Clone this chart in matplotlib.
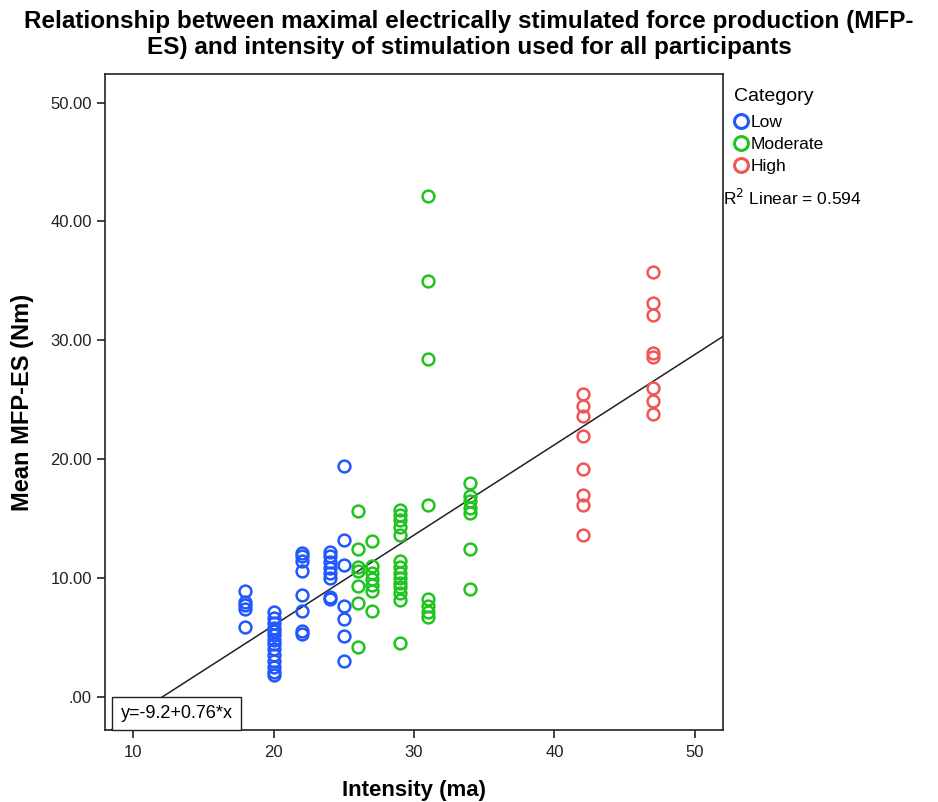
import matplotlib
matplotlib.use('Agg')
import matplotlib.pyplot as plt
from matplotlib.ticker import FuncFormatter
from matplotlib.lines import Line2D
from matplotlib.transforms import offset_copy

plt.rcParams['font.family'] = ['Liberation Sans', 'DejaVu Sans']

# values
low_intensity = [18, 18, 18, 18, 18,
                 20, 20, 20, 20, 20, 20, 20, 20, 20, 20, 20, 20, 20, 20,
                 22, 22, 22, 22, 22, 22, 22, 22,
                 24, 24, 24, 24, 24, 24, 24, 24,
                 25, 25, 25, 25, 25, 25, 25]
low_force = [8.9, 8.0, 7.7, 7.4, 5.9,
             7.1, 6.6, 6.2, 5.8, 5.5, 5.2, 4.8, 4.4, 4.0, 3.5, 3.0, 2.5, 2.1, 1.8,
             12.1, 11.8, 11.4, 10.6, 8.6, 7.2, 5.5, 5.3,
             12.2, 11.8, 11.3, 10.8, 10.4, 10.0, 8.4, 8.2,
             19.4, 13.2, 11.1, 7.6, 6.5, 5.1, 3.0]

moderate_intensity = [26, 26, 26, 26, 26, 26, 26,
                      27, 27, 27, 27, 27, 27, 27,
                      29, 29, 29, 29, 29, 29, 29, 29, 29, 29, 29, 29, 29, 29,
                      31, 31, 31, 31, 31, 31, 31, 31,
                      34, 34, 34, 34, 34, 34, 34]
moderate_force = [15.6, 12.4, 10.9, 10.6, 9.3, 7.9, 4.2,
                  13.1, 11.0, 10.4, 9.9, 9.4, 8.9, 7.2,
                  15.7, 15.3, 14.9, 14.3, 13.6, 11.4, 10.9, 10.4, 10.0, 9.6, 9.2, 8.7, 8.1, 4.5,
                  42.1, 35.0, 28.4, 16.1, 8.2, 7.6, 7.1, 6.7,
                  18.0, 16.9, 16.5, 15.9, 15.5, 12.4, 9.1]

high_intensity = [42, 42, 42, 42, 42, 42, 42, 42,
                  47, 47, 47, 47, 47, 47, 47, 47]
high_force = [25.5, 24.5, 23.6, 21.9, 19.2, 17.0, 16.1, 13.6,
              35.7, 33.1, 32.1, 28.9, 28.6, 26.0, 24.9, 23.8]

fit_intercept = -9.2
fit_slope = 0.76
r_squared = 0.594

categories = ['Low', 'Moderate', 'High']
colors = ['#2157ff', '#1fc41f', '#f25555']

x_ticks = [10, 20, 30, 40, 50]
y_ticks = [0, 10, 20, 30, 40, 50]
x_limits = (8, 52)
y_limits = (-2.8, 52.4)

fig = plt.figure(figsize=(9.38, 8.02), dpi=100)
ax = fig.add_axes([105 / 938, 1 - 730 / 802, 618 / 938, 656 / 802])

series = [(low_intensity, low_force), (moderate_intensity, moderate_force),
          (high_intensity, high_force)]
for (xs, ys), color in zip(series, colors):
    ax.plot(xs, ys, linestyle='none', marker='o', markersize=8.5,
            markerfacecolor='none', markeredgecolor=color, markeredgewidth=1.8,
            zorder=3)

# fit line over the whole axis range
ax.plot(list(x_limits), [fit_intercept + fit_slope * v for v in x_limits],
        color='#222222', linewidth=1.1, zorder=2)

ax.set_xlim(*x_limits)
ax.set_ylim(*y_limits)
ax.set_xticks(x_ticks)
ax.set_yticks(y_ticks)
ax.yaxis.set_major_formatter(FuncFormatter(lambda v, p: ('%.2f' % v).lstrip('0') if v == 0 else '%.2f' % v))
ax.tick_params(direction='out', length=6, width=1.2, labelsize=12, colors='#222222',
               top=False, right=False)
ax.tick_params(axis='x', pad=5)
for spine in ax.spines.values():
    spine.set_linewidth(1.2)
    spine.set_color('#222222')

ax.set_xlabel('Intensity (ma)', fontsize=16, fontweight='bold', labelpad=14)
ax.set_ylabel('Mean MFP-ES (Nm)', fontsize=17, fontweight='bold', labelpad=12)

fig.text(0.5, 1 - 10 / 802,
         'Relationship between maximal electrically stimulated force production (MFP-\n'
         'ES) and intensity of stimulation used for all participants',
         ha='center', va='top', fontsize=17.5, fontweight='bold', linespacing=1.15)

box_pad = 0.45 * 13
ax.text(0.012, 0.0, 'y=-9.2+0.76*x',
        transform=offset_copy(ax.transAxes, fig=fig, x=box_pad, y=box_pad, units='points'),
        ha='left', va='bottom', fontsize=13, zorder=5,
        bbox=dict(boxstyle='square,pad=0.45', facecolor='white', edgecolor='#222222',
                  linewidth=1.0))

handles = [Line2D([], [], linestyle='none', marker='o', markersize=10,
                  markerfacecolor='none', markeredgecolor=c, markeredgewidth=2.2)
           for c in colors]
leg = fig.legend(handles, categories, title='Category', loc='upper left',
                 bbox_to_anchor=(722 / 938, 1 - 76 / 802), frameon=False,
                 fontsize=12.5, title_fontsize=14, handlelength=0.8,
                 handletextpad=0.15, labelspacing=0.4, borderpad=0.2)
leg._legend_box.align = 'left'
leg._legend_box.sep = 7

fig.text(723 / 938, 1 - 198 / 802, 'R$^2$ Linear = 0.594', ha='left', va='center',
         fontsize=12.5)

plt.savefig('out.png', dpi=100)
plt.close()
